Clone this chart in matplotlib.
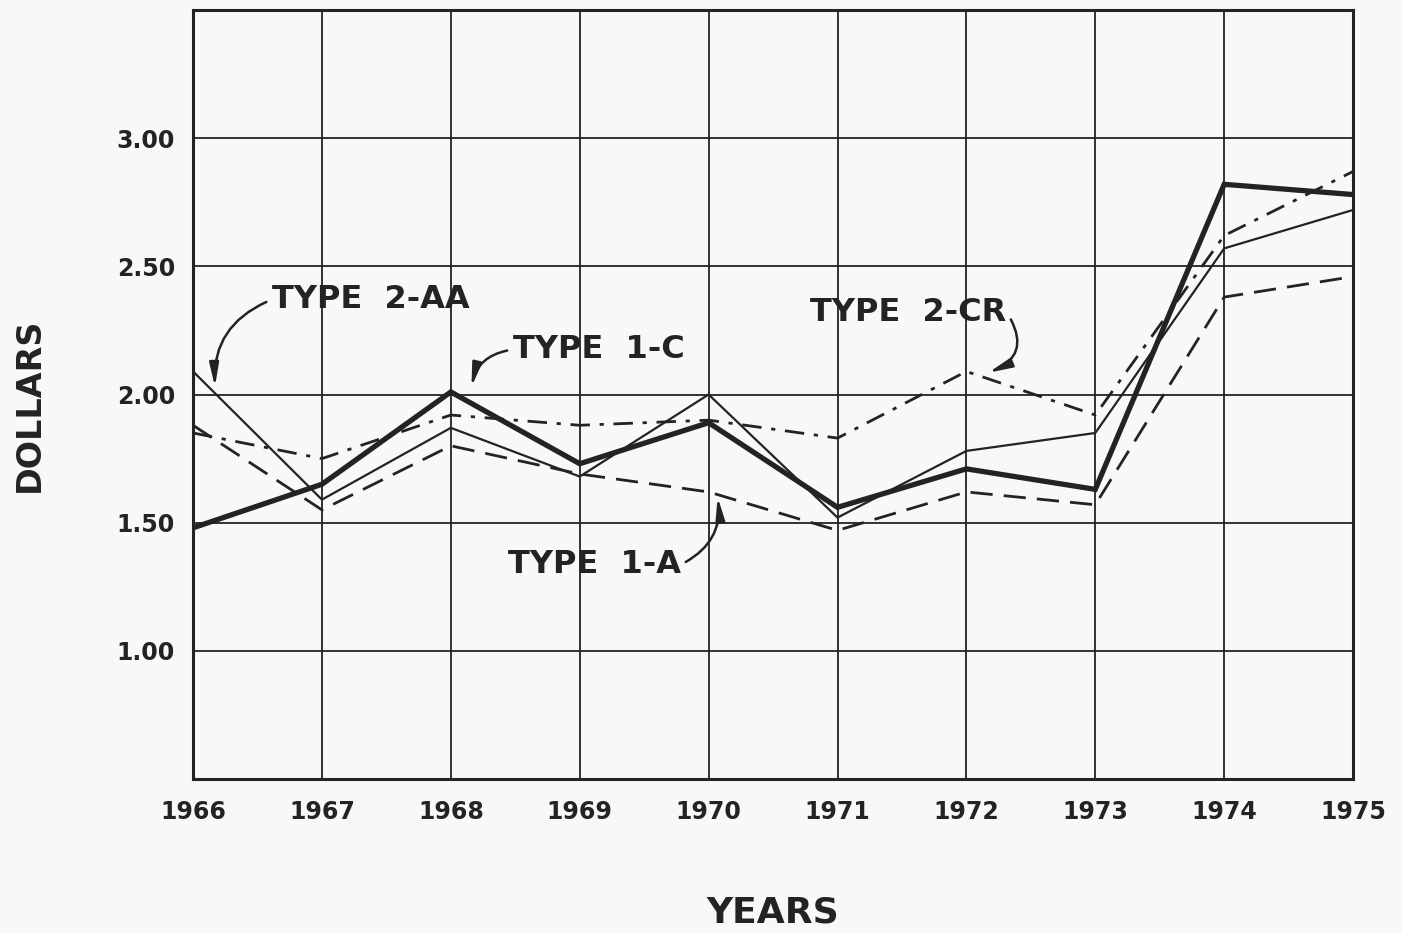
import matplotlib
matplotlib.use("Agg")
import matplotlib.pyplot as plt

years = [1966, 1967, 1968, 1969, 1970, 1971, 1972, 1973, 1974, 1975]
type_1c = [1.48, 1.65, 2.01, 1.73, 1.89, 1.56, 1.71, 1.63, 2.82, 2.78]
type_2aa = [2.09, 1.59, 1.87, 1.68, 2.00, 1.52, 1.78, 1.85, 2.57, 2.72]
type_1a = [1.88, 1.55, 1.80, 1.69, 1.62, 1.47, 1.62, 1.57, 2.38, 2.46]
type_2cr = [1.85, 1.75, 1.92, 1.88, 1.90, 1.83, 2.09, 1.92, 2.62, 2.87]
ytick_vals = [1.0, 1.5, 2.0, 2.5, 3.0]
ytick_labels = ["1.00", "1.50", "2.00", "2.50", "3.00"]

ink = "#232323"
paper = "#f8f8f6"

plt.rcParams["font.family"] = "DejaVu Sans"
plt.rcParams["font.weight"] = "bold"

fig = plt.figure(figsize=(14.02, 9.33), dpi=100, facecolor=paper)
ax = fig.add_axes([0.1377, 0.165, 0.8274, 0.8243])
ax.set_facecolor(paper)

ax.set_xlim(1966, 1975)
ax.set_ylim(0.5, 3.5)

# grid
for y in [1.0, 1.5, 2.0, 2.5, 3.0]:
    ax.axhline(y, color=ink, lw=1.3, zorder=1)
for x in years[1:-1]:
    ax.axvline(x, color=ink, lw=1.3, zorder=1)
for s in ax.spines.values():
    s.set_linewidth(2.2)
    s.set_color(ink)

# series
ax.plot(years, type_1c, color=ink, lw=3.8, solid_joinstyle="miter", zorder=4)
ax.plot(years, type_2aa, color=ink, lw=1.6, zorder=3)
ax.plot(years, type_1a, color=ink, lw=2.0, linestyle=(0, (8, 4)), zorder=3)
ax.plot(years, type_2cr, color=ink, lw=2.0, linestyle=(0, (7, 3.5, 1.5, 3.5)), zorder=3)

ax.set_xticks(years)
ax.set_xticklabels([str(y) for y in years], fontsize=17, fontweight="bold", color=ink)
ax.set_yticks(ytick_vals)
ax.set_yticklabels(ytick_labels, fontsize=17, fontweight="bold", color=ink)
ax.tick_params(axis="both", length=0)
ax.tick_params(axis="y", pad=13)
ax.tick_params(axis="x", pad=15)

fig.text(0.551, 0.022, "YEARS", fontsize=26, fontweight="bold", color=ink,
         ha="center", va="center")
fig.text(0.021, 0.566, "DOLLARS", fontsize=24, fontweight="bold", color=ink,
         ha="center", va="center", rotation=90)

arrow = dict(arrowstyle="-|>,head_length=0.7,head_width=0.14", color=ink,
             lw=1.8, shrinkA=2, shrinkB=0, mutation_scale=20)

ax.annotate("TYPE  2-AA", xy=(1966.17, 2.03), xytext=(1966.61, 2.37),
            fontsize=23, fontweight="bold", color=ink, ha="left", va="center",
            arrowprops=dict(arrow, relpos=(0, 0.5), connectionstyle="arc3,rad=0.35"),
            zorder=5)
ax.annotate("TYPE  1-C", xy=(1968.16, 2.03), xytext=(1968.48, 2.175),
            fontsize=23, fontweight="bold", color=ink, ha="left", va="center",
            arrowprops=dict(arrow, relpos=(0, 0.5), connectionstyle="arc3,rad=0.35"),
            zorder=5)
ax.annotate("TYPE  2-CR", xy=(1972.17, 2.085), xytext=(1970.79, 2.32),
            fontsize=23, fontweight="bold", color=ink, ha="left", va="center",
            arrowprops=dict(arrow, relpos=(1, 0.5), connectionstyle="arc3,rad=-0.6"),
            zorder=5)
ax.annotate("TYPE  1-A", xy=(1970.07, 1.60), xytext=(1968.44, 1.336),
            fontsize=23, fontweight="bold", color=ink, ha="left", va="center",
            arrowprops=dict(arrow, relpos=(1, 0.5), connectionstyle="arc3,rad=0.35"),
            zorder=5)

fig.savefig("out.png", dpi=100, facecolor=paper)
